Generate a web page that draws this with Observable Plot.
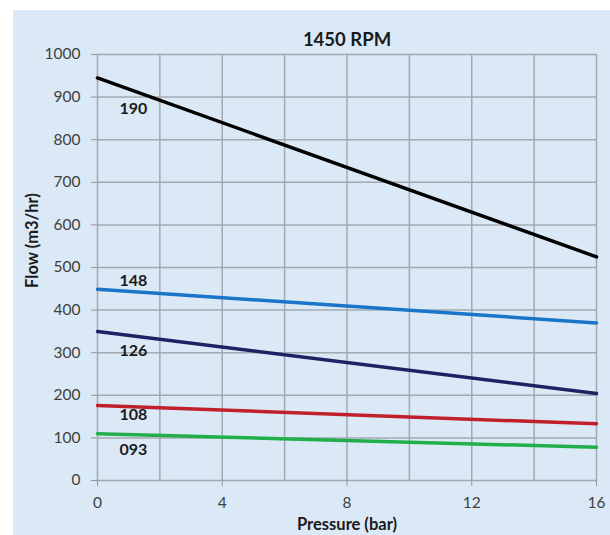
<!DOCTYPE html>
<html><head><meta charset="utf-8">
<script src="https://cdn.jsdelivr.net/npm/d3@7"></script>
<script src="https://cdn.jsdelivr.net/npm/@observablehq/plot@0.6"></script>
<style>
body{margin:0;background:#fff;font-family:Lato,"Open Sans",sans-serif;}
#wrap{position:relative;width:610px;height:535px;}
#bg{position:absolute;left:13px;top:10px;width:597px;height:525px;background:#dbe9f6;}
#chart{position:absolute;left:0;top:0;}
svg{background:transparent !important;}
</style></head><body>
<div id="wrap"><div id="bg"></div><div id="chart"></div></div>
<script>
const models = ["190","148","126","108","093"];
const colors = ["#000000","#1a75c8","#1f2262","#c0202c","#22ae4a"];
const pressure = [0, 16];
const flow190 = [945, 525];
const flow148 = [449, 370];
const flow126 = [350, 204];
const flow108 = [176, 133];
const flow093 = [110, 78];
const labelX = [1.15, 1.15, 1.15, 1.15, 1.15];
const labelY = [873, 468, 305, 153, 73];
const xTicks = [0, 4, 8, 12, 16];
const yTicks = [0,100,200,300,400,500,600,700,800,900,1000];
const xGrid = [0,2,4,6,8,10,12,14,16];

const series = [flow190, flow148, flow126, flow108, flow093];
const rows = [];
series.forEach((s, i) => s.forEach((v, j) => rows.push({model: models[i], x: pressure[j], y: v})));
const labels = models.map((m, i) => ({model: m, x: labelX[i], y: labelY[i]}));

const plot = Plot.plot({
  width: 610, height: 535,
  marginLeft: 97, marginRight: 14, marginTop: 54, marginBottom: 55,
  style: {background: "transparent", fontFamily: "Lato, 'Open Sans', sans-serif"},
  x: {domain: [0, 16]},
  y: {domain: [0, 1000]},
  color: {domain: models, range: colors},
  marks: [
    Plot.ruleX(xGrid, {stroke: "#a3a9b1", strokeWidth: 1.5}),
    Plot.ruleY(yTicks, {stroke: "#a3a9b1", strokeWidth: 1.5}),
    Plot.axisY(yTicks, {tickSize: 6, tickPadding: 11, fontSize: 15.5, color: "#404040", stroke: "#8f959c", label: null, tickFormat: d3.format("d")}),
    Plot.axisX(xTicks, {tickSize: 6, tickPadding: 10, fontSize: 15.5, color: "#404040", stroke: "#8f959c", label: null}),
    Plot.line(rows, {x: "x", y: "y", z: "model", stroke: "model", strokeWidth: 3.5}),
    Plot.text(labels, {x: "x", y: "y", text: "model", fontSize: 16, fontWeight: "bold", fill: "#1a1a1a"}),
    Plot.text(["1450 RPM"], {frameAnchor: "top", dy: -22, fontSize: 18.5, fontWeight: "bold", fill: "#1a1a1a"}),
    Plot.text(["Pressure (bar)"], {frameAnchor: "bottom", dy: 49, fontSize: 16.5, fontWeight: "bold", fill: "#1a1a1a"}),
    Plot.text(["Flow (m3/hr)"], {frameAnchor: "left", textAnchor: "middle", dx: -65, dy: -27, rotate: -90, fontSize: 16.5, fontWeight: "bold", fill: "#1a1a1a", style: {letterSpacing: "1.3px"}})
  ]
});
document.getElementById("chart").appendChild(plot);
</script></body></html>
